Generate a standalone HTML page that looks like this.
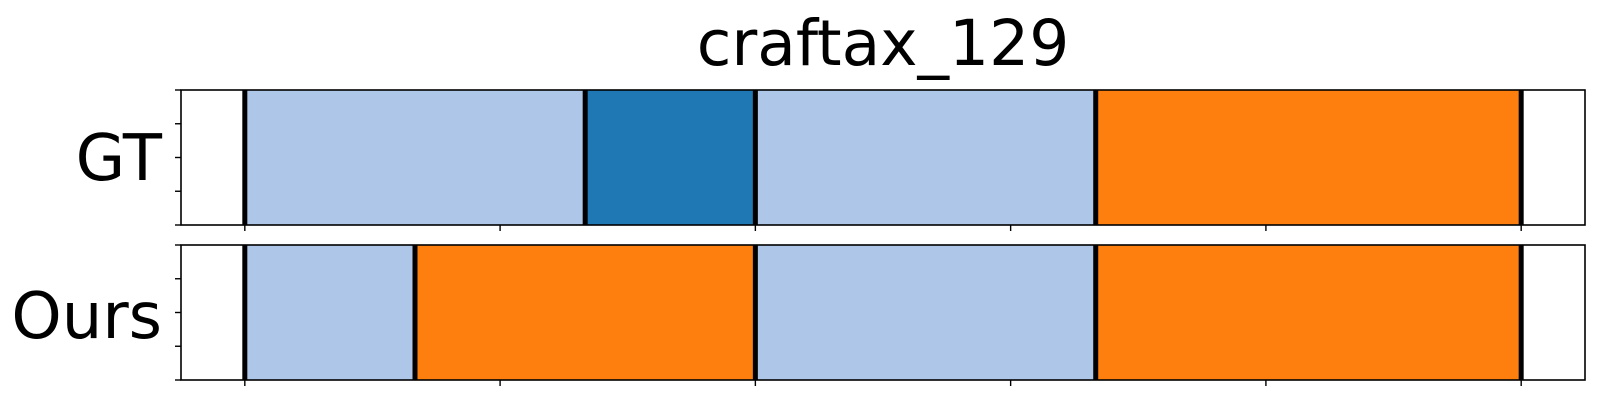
<!DOCTYPE html>
<html><head><meta charset="utf-8"><style>
body{margin:0;background:#fff;}
svg{display:block;font-family:"DejaVu Sans","Liberation Sans",sans-serif;}
</style></head><body>
<svg id="chart" width="1600" height="400" xmlns="http://www.w3.org/2000/svg">
<text x="883" y="65" font-size="63" text-anchor="middle">craftax_129</text>
<g id="plots"></g>
</svg>
<script>
const rowLabels = ["GT", "Ours"];
const gtBounds = [0, 4, 6, 10, 15];
const gtClasses = ["light", "dark", "light", "orange"];
const oursBounds = [0, 2, 6, 10, 15];
const oursClasses = ["light", "orange", "light", "orange"];
const xTicks = [0, 3, 6, 9, 12, 15];

const colors = {light:"#aec7e8", dark:"#1f77b4", orange:"#ff7f0e"};
const xMin = -0.75, xMax = 15.75, left = 181, right = 1585;
const X = v => left + (v - xMin) / (xMax - xMin) * (right - left);
const panels = [{top:90, bottom:225, b:gtBounds, c:gtClasses}, {top:245, bottom:380, b:oursBounds, c:oursClasses}];
const NS = "http://www.w3.org/2000/svg";
const g = document.getElementById('plots');
function mk(tag, attrs){const e=document.createElementNS(NS,tag);for(const k in attrs)e.setAttribute(k,attrs[k]);g.appendChild(e);return e;}
panels.forEach((p, pi) => {
  const h = p.bottom - p.top;
  for (let i = 0; i < p.c.length; i++) {
    const r = mk('rect', {x:X(p.b[i]), y:p.top, width:X(p.b[i+1]) - X(p.b[i]), height:h, fill:colors[p.c[i]]});
    
    
  }
  p.b.forEach(v => {
    const l = mk('line', {x1:X(v), x2:X(v), y1:p.top, y2:p.bottom, stroke:'#000', 'stroke-width':5});
    
    
  });
  const f = mk('rect', {x:left, y:p.top, width:right-left, height:h, fill:'none', stroke:'#000', 'stroke-width':1.6});
  
  
  for (let k = 0; k <= 4; k++) {
    const y = p.top + h * k / 4;
    const t = mk('line', {x1:left-6, x2:left, y1:y, y2:y, stroke:'#000', 'stroke-width':1.4});
    
    
  }
  xTicks.forEach(v => {
    const t = mk('line', {x1:X(v), x2:X(v), y1:p.bottom, y2:p.bottom+6, stroke:'#000', 'stroke-width':1.4});
    
    
  });
  const lab = mk('text', {x:162, y:pi===0?180:338, 'font-size':64, 'text-anchor':'end'});
  lab.textContent = rowLabels[pi];
  
  
});
</script>
</body></html>
